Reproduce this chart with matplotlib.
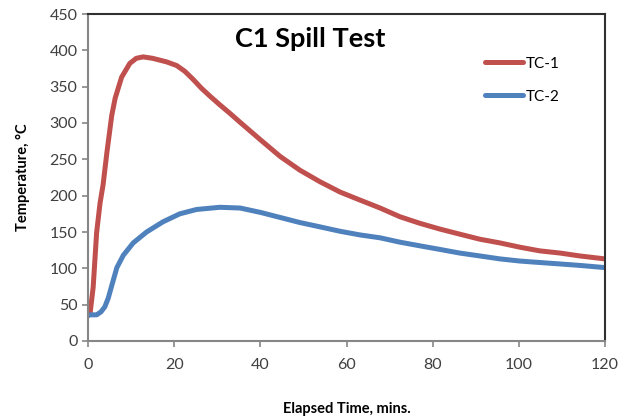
import numpy as np
import matplotlib.pyplot as plt

# values
tc1_time = [0, 0.5, 1.2, 2, 2.8, 3.5, 4.4, 5.5, 6.3, 7.8, 9.7, 11.2, 12.8, 15, 18.3, 20.6,
            22.5, 24.4, 26.3, 28.3, 30.6, 33, 35.3, 40, 44.6, 49.2, 53.9, 58.5, 63.1,
            67.8, 72.4, 77, 81.7, 86.3, 91, 95.6, 100.3, 104.9, 109.6, 114.2, 120]
tc1_temp = [35, 39, 74, 149, 190, 215, 260, 310, 334, 363, 382, 389, 391, 389, 384, 379,
            371, 360, 348, 337, 325, 313, 301, 277, 254, 235, 219, 205, 194,
            183, 171, 162, 154, 147, 140, 135, 129, 124, 121, 117, 113]

tc2_time = [0, 0.5, 2, 3, 3.9, 4.7, 5.5, 6.7, 8.2, 10.5, 13.6, 17.4, 21.3, 25.2, 30.6,
            35.3, 40, 44.6, 49.2, 53.9, 58.5, 63.1, 67.8, 72.4, 77, 81.7, 86.3,
            91, 95.6, 100.3, 104.9, 109.6, 114.2, 120]
tc2_temp = [35, 36, 36, 40, 47, 59, 76, 101, 118, 135, 150, 164, 175, 181, 184,
            183, 177, 170, 163, 157, 151, 146, 142, 136, 131, 126, 121,
            117, 113, 110, 108, 106, 104, 101]

x_ticks = [0, 20, 40, 60, 80, 100, 120]
y_ticks = [0, 50, 100, 150, 200, 250, 300, 350, 400, 450]

plt.rcParams['font.family'] = ['Lato', 'DejaVu Sans']

fig = plt.figure(figsize=(6.19, 4.17), dpi=100)
ax = fig.add_axes([88/619, 1-341/417, (605-88)/619, (341-14)/417])

ax.plot(tc1_time, tc1_temp, color='#C0504D', lw=3.6, solid_capstyle='round',
        solid_joinstyle='round', label='TC-1')
ax.plot(tc2_time, tc2_temp, color='#4F81BD', lw=3.6, solid_capstyle='round',
        solid_joinstyle='round', label='TC-2')

ax.set_xlim(0, 120)
ax.set_ylim(0, 450)
ax.set_xticks(x_ticks)
ax.set_yticks(y_ticks)
ax.tick_params(axis='both', direction='out', length=4, width=1.2, color='#868686',
               labelsize=11.5, labelcolor='#404040')
ax.tick_params(axis='x', pad=8)

for side in ['left', 'bottom']:
    ax.spines[side].set_color('#868686')
    ax.spines[side].set_linewidth(1.5)
for side in ['top', 'right']:
    ax.spines[side].set_color('#303030')
    ax.spines[side].set_linewidth(1.5)

ax.set_xlabel('Elapsed Time, mins.', fontsize=10.5, fontweight='bold', labelpad=22)
ax.set_ylabel('Temperature, \u00b0C', fontsize=10.5, fontweight='bold', labelpad=14)

ax.text(51.5, 416, 'C1 Spill Test', fontsize=19.5, fontweight='bold', ha='center', va='center')

ax.legend(loc='upper left', bbox_to_anchor=(0.768, 0.87), frameon=False, fontsize=11,
          handlelength=2.5, handletextpad=0.15, labelspacing=1.25, borderpad=0,
          borderaxespad=0)

fig.savefig('out.png', dpi=100)
